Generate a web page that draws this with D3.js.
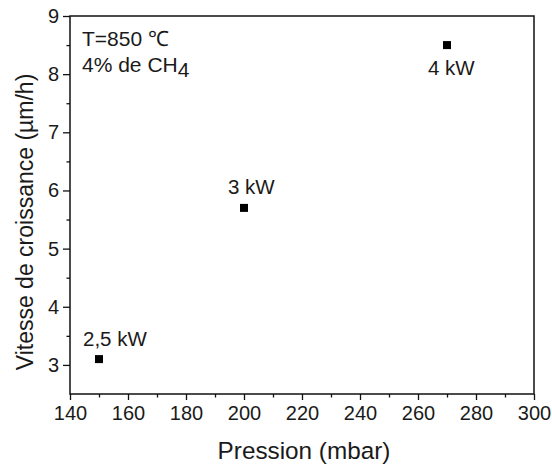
<!DOCTYPE html>
<html>
<head>
<meta charset="utf-8">
<script src="https://cdn.jsdelivr.net/npm/d3@7"></script>
<style>
html,body{margin:0;padding:0;background:#fff;}
text{font-family:"Liberation Sans",Arial,sans-serif;fill:#1a1a1a;}
</style>
</head>
<body>
<svg id="chart" width="552" height="466"></svg>
<script>
const pressure = [150, 200, 270];
const growthRate = [3.1, 5.7, 8.5];
const powerLabels = ["2,5 kW", "3 kW", "4 kW"];
const xTicks = [140, 160, 180, 200, 220, 240, 260, 280, 300];
const yTicks = [3, 4, 5, 6, 7, 8, 9];
const annotations = ["T=850 \u2103", "4% de CH"];

const W = 552, H = 466;
const m = {left: 70, top: 16, right: 18, bottom: 72};
const svg = d3.select("#chart");
const x = d3.scaleLinear().domain([140, 300]).range([m.left, W - m.right]);
const y = d3.scaleLinear().domain([2.5, 9]).range([H - m.bottom, m.top]);

// minor ticks
const xMinor = d3.range(150, 300, 20);
const yMinor = d3.range(3.5, 9, 1);

const gx = svg.append("g").attr("transform", `translate(0,${H - m.bottom})`);
gx.call(d3.axisBottom(x).tickValues(xTicks).tickSize(6).tickPadding(6).tickFormat(d3.format("d")));
gx.append("g").call(d3.axisBottom(x).tickValues(xMinor).tickSize(3.5).tickFormat(""));
const gy = svg.append("g").attr("transform", `translate(${m.left},0)`);
gy.call(d3.axisLeft(y).tickValues(yTicks).tickSize(7).tickPadding(4).tickFormat(d3.format("d")));
gy.append("g").call(d3.axisLeft(y).tickValues(yMinor).tickSize(3.5).tickFormat(""));

svg.selectAll(".domain").remove();
svg.selectAll(".tick line").attr("stroke", "#111").attr("stroke-width", 1.3);
svg.selectAll(".tick text").attr("font-size", 20).attr("fill", "#1a1a1a")
  .style("font-family", '"Liberation Sans", Arial, sans-serif');

// frame
svg.append("rect")
  .attr("x", x(140)).attr("y", y(9))
  .attr("width", x(300) - x(140)).attr("height", y(2.5) - y(9))
  .attr("fill", "none").attr("stroke", "#111").attr("stroke-width", 1.5);

// axis titles
svg.append("text").attr("x", (x(140) + x(300)) / 2 + 2).attr("y", 459)
  .attr("text-anchor", "middle").attr("font-size", 24.3).text("Pression (mbar)");
svg.append("text").attr("transform", `translate(33,222) rotate(-90)`)
  .attr("text-anchor", "middle").attr("font-size", 23).text("Vitesse de croissance (\u00b5m/h)");

// points
const sq = 8;
svg.selectAll("rect.pt").data(pressure).enter().append("rect")
  .attr("class", "pt")
  .attr("x", d => x(d) - sq / 2)
  .attr("y", (d, i) => y(growthRate[i]) - sq / 2)
  .attr("width", sq).attr("height", sq).attr("fill", "#000");

// point labels
const labelOffsets = [[-16, -13], [-16, -14], [-19, 30]];
svg.selectAll("text.lbl").data(powerLabels).enter().append("text")
  .attr("class", "lbl")
  .attr("x", (d, i) => x(pressure[i]) + labelOffsets[i][0])
  .attr("y", (d, i) => y(growthRate[i]) + labelOffsets[i][1])
  .attr("font-size", 20.5).text(d => d);

// annotations
svg.append("text").attr("x", 82).attr("y", 46).attr("font-size", 21).text(annotations[0]);
const t2 = svg.append("text").attr("x", 82).attr("y", 72).attr("font-size", 21);
t2.append("tspan").text(annotations[1]);
t2.append("tspan").attr("dy", 5).text("4");
</script>
</body>
</html>
